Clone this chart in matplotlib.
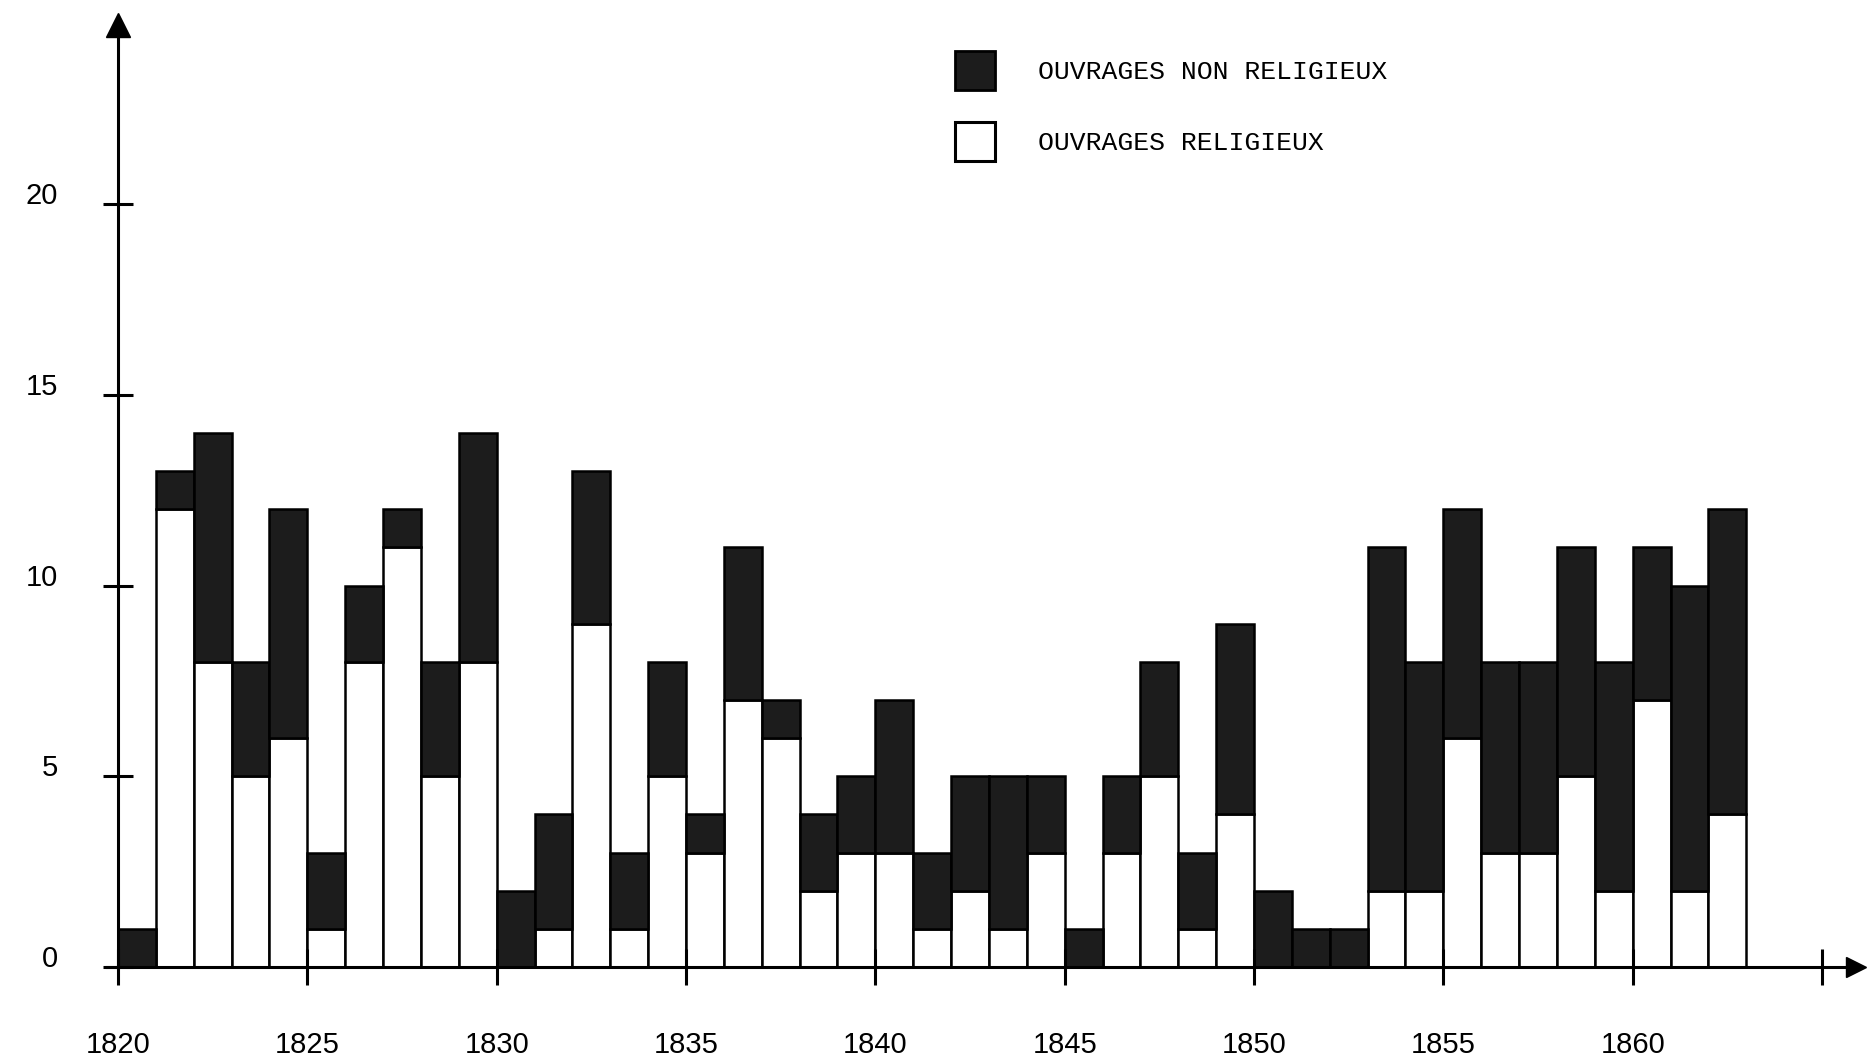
import matplotlib
matplotlib.use("Agg")
import matplotlib.pyplot as plt
from matplotlib.patches import Patch
import numpy as np

# annees 1820-1862
years = np.arange(1820, 1863)
religieux = [0, 12, 8, 5, 6, 1, 8, 11, 5, 8,
             0, 1, 9, 1, 5, 3, 7, 6, 2, 3,
             3, 1, 2, 1, 3, 0, 3, 5, 1, 4,
             0, 0, 0, 2, 2, 6, 3, 3, 5, 2,
             7, 2, 4]
non_religieux = [1, 1, 6, 3, 6, 2, 2, 1, 3, 6,
                 2, 3, 4, 2, 3, 1, 4, 1, 2, 2,
                 4, 2, 3, 4, 2, 1, 2, 3, 2, 5,
                 2, 1, 1, 9, 6, 6, 5, 5, 6, 6,
                 4, 8, 8]
xticks = [1820, 1825, 1830, 1835, 1840, 1845, 1850, 1855, 1860, 1865]
xlabels = ["1820", "1825", "1830", "1835", "1840", "1845", "1850", "1855", "1860", ""]
yticks = [0, 5, 10, 15, 20]
legend_labels = ["OUVRAGES NON RELIGIEUX", "OUVRAGES RELIGIEUX"]

DARK = "#1c1c1c"
num_font = ["Liberation Sans", "DejaVu Sans"]

fig = plt.figure(figsize=(18.72, 10.63), dpi=100)
ax = fig.add_axes([118 / 1872, 96 / 1063, 1754 / 1872, 967 / 1063])

ax.bar(years, religieux, width=1, align="edge", color="white",
       edgecolor="black", linewidth=1.8)
ax.bar(years, non_religieux, bottom=religieux, width=1, align="edge",
       color=DARK, edgecolor="black", linewidth=1.8)

ax.set_xlim(1820, 1866.32)
ax.set_ylim(0, 25.35)

for s in ["top", "right"]:
    ax.spines[s].set_visible(False)
for s in ["left", "bottom"]:
    ax.spines[s].set_linewidth(2.2)
x_end, y_end = 1865.9, 24.7
ax.spines["bottom"].set_bounds(1819.7, x_end)
ax.spines["left"].set_bounds(0, y_end)

# fleches au bout des axes
ax.plot(x_end, 0, ">k", clip_on=False, markersize=15)
ax.plot(1820, y_end, "^k", clip_on=False, markersize=17)

ax.set_xticks(xticks)
ax.set_xticklabels(xlabels, family=num_font, fontsize=21)
ax.set_yticks(yticks)
ax.set_yticklabels([str(v) for v in yticks], family=num_font, fontsize=21)
ax.tick_params(axis="x", direction="inout", length=26, width=2.2, pad=33)
ax.tick_params(axis="y", direction="inout", length=22, width=2.2, pad=32)
for lab in ax.get_yticklabels():
    lab.set_verticalalignment("baseline")

handles = [Patch(facecolor=DARK, edgecolor="black", linewidth=2),
           Patch(facecolor="white", edgecolor="black", linewidth=2.2)]
fig.legend(handles, legend_labels, loc="upper left",
           bbox_to_anchor=(955 / 1872, 1 - 51 / 1063), bbox_transform=fig.transFigure,
           frameon=False, borderpad=0, borderaxespad=0,
           handlelength=1.5, handleheight=1.9, handletextpad=1.65, labelspacing=1.22,
           prop={"family": ["Liberation Mono", "DejaVu Sans Mono"], "size": 19})

fig.savefig("out.png", dpi=100)
